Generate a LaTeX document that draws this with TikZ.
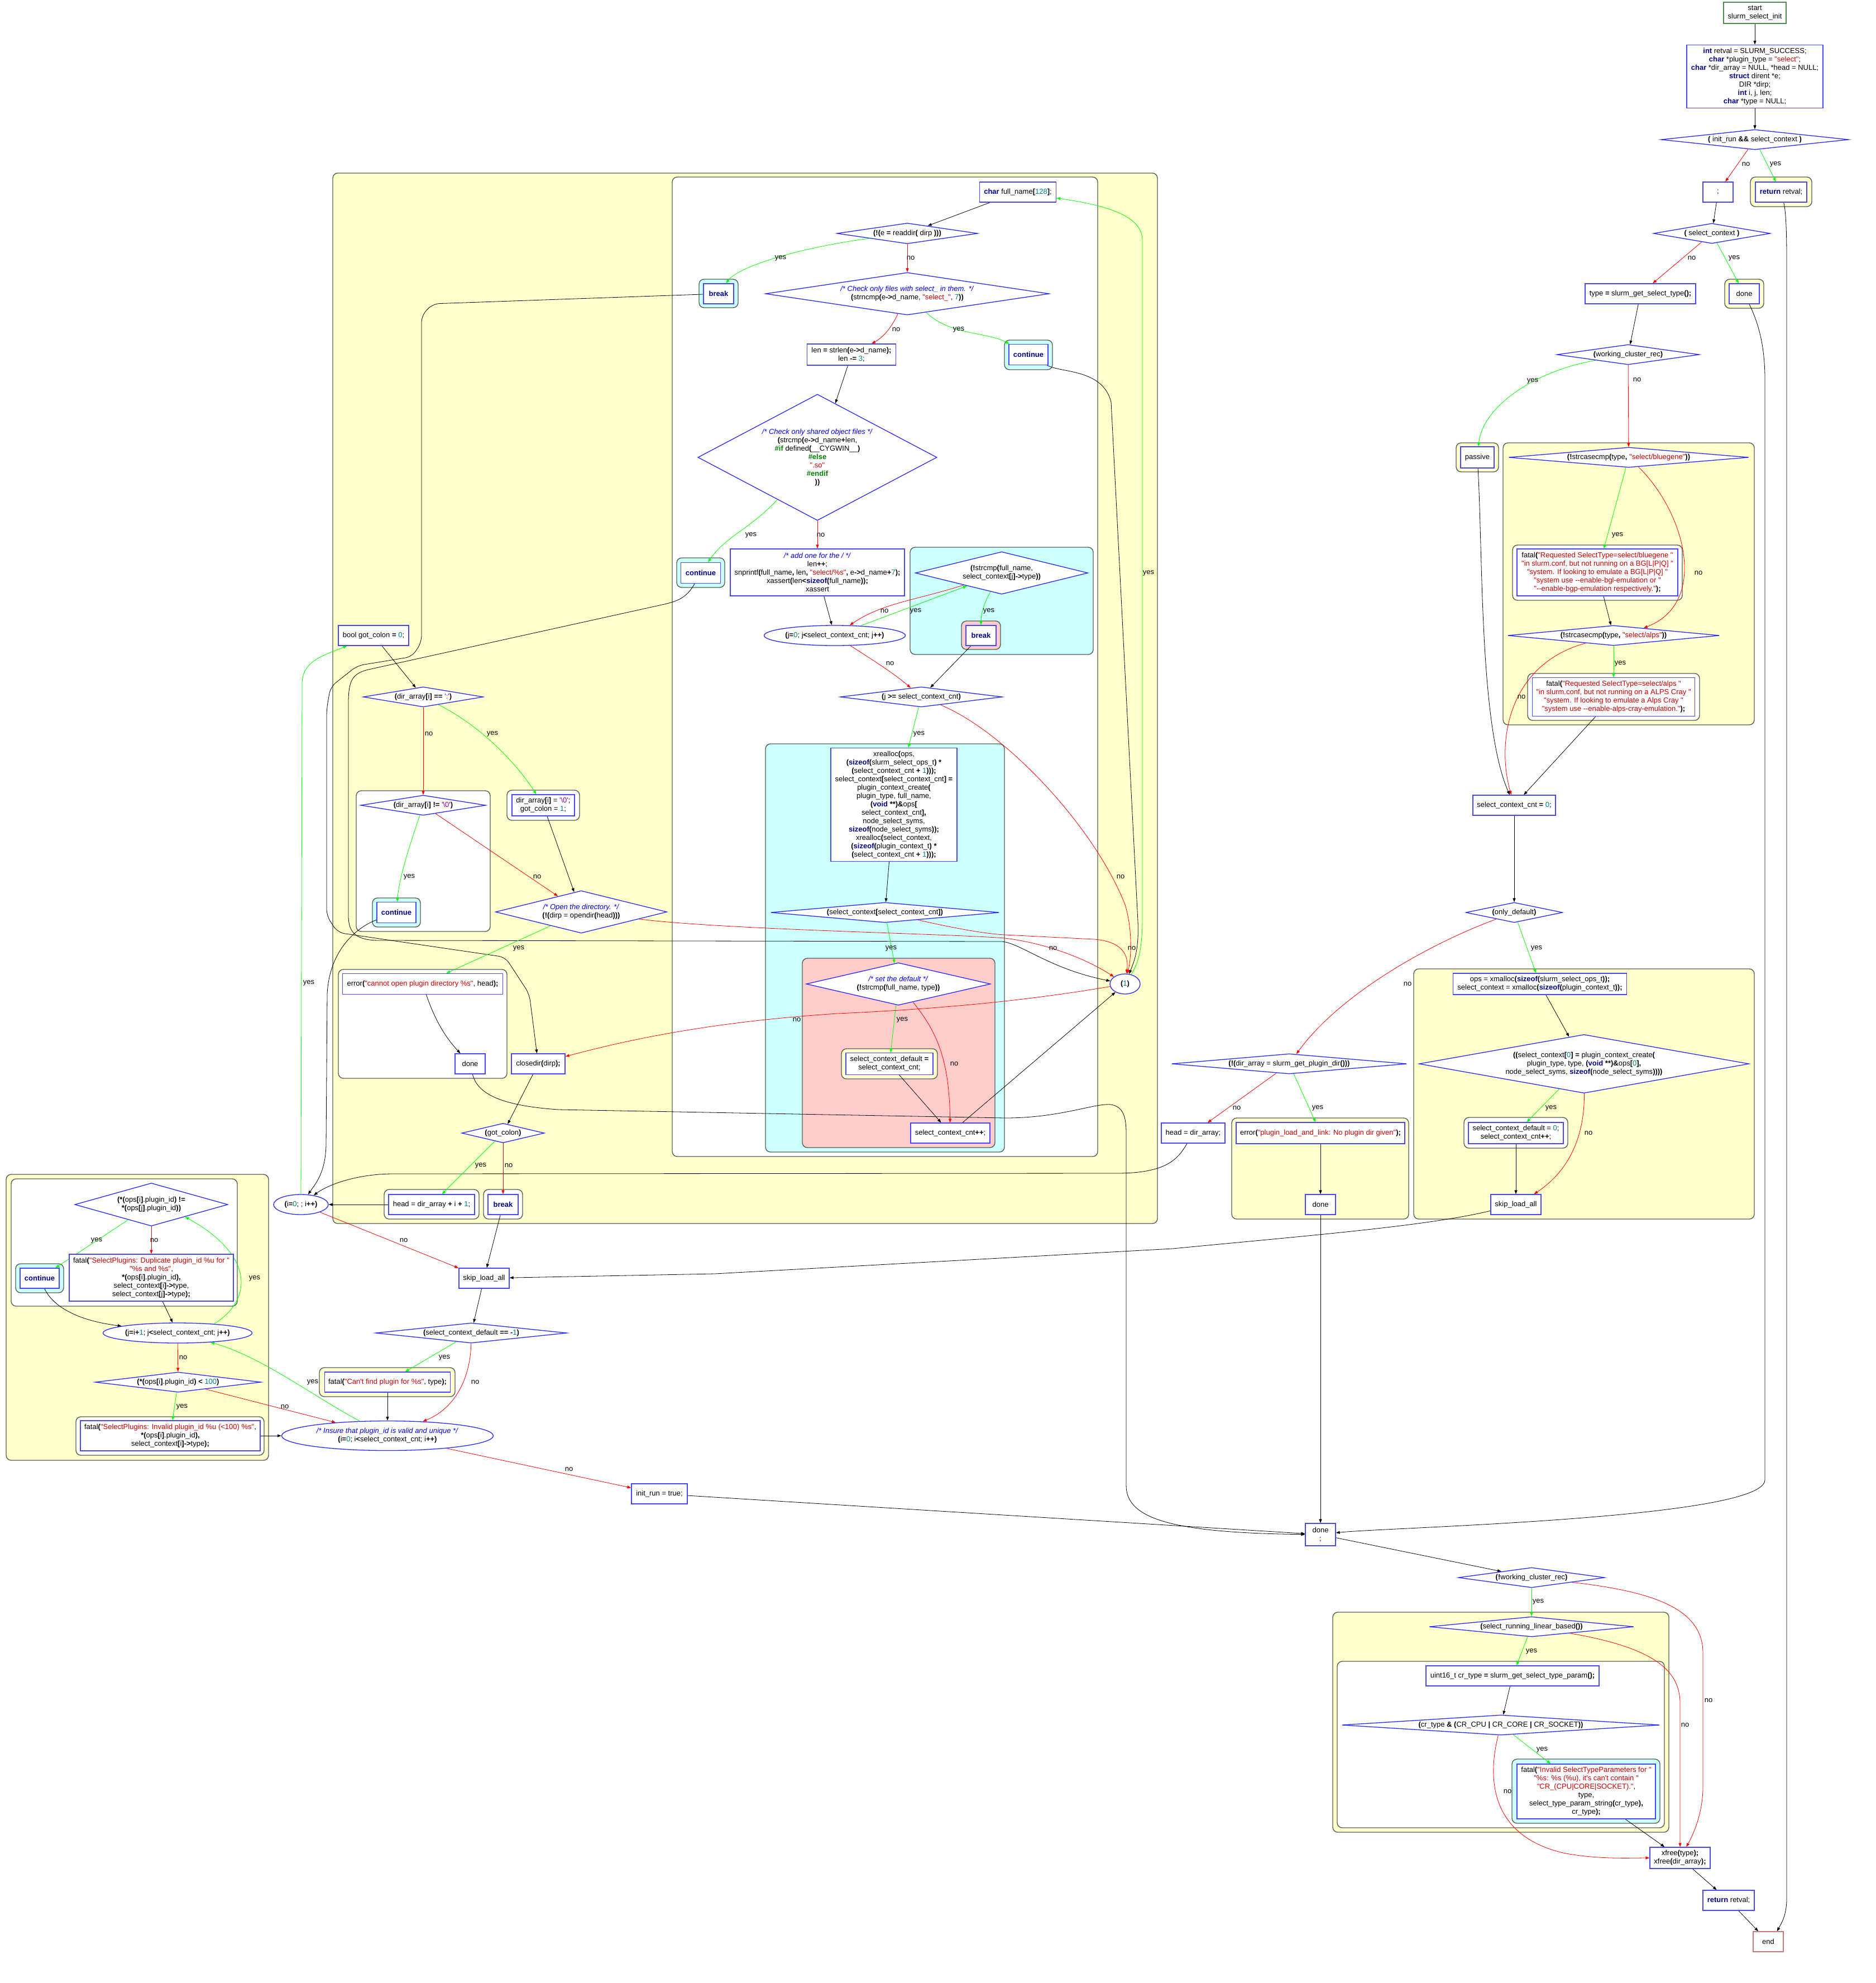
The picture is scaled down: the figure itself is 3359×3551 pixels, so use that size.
\documentclass[tikz,border=0pt]{standalone}
\usepackage{fontspec}
\setmainfont{Liberation Sans}[Ligatures=TeXOff]
\usetikzlibrary{shapes.geometric,arrows.meta}
\definecolor{nodeblue}{RGB}{70,70,255}
\definecolor{diablue}{RGB}{40,40,255}
\definecolor{clborder}{RGB}{85,95,85}
\definecolor{clyellow}{RGB}{255,255,204}
\definecolor{clcyan}{RGB}{204,255,255}
\definecolor{clpink}{RGB}{255,204,204}
\definecolor{kwblue}{RGB}{0,0,139}
\definecolor{strred}{RGB}{204,0,0}
\definecolor{numteal}{RGB}{0,128,128}
\definecolor{chrpurple}{RGB}{150,0,150}
\definecolor{cmtblue}{RGB}{0,0,255}
\definecolor{ppgreen}{RGB}{0,128,0}
\definecolor{edgegreen}{RGB}{0,255,0}
\definecolor{edgered}{RGB}{255,0,0}
\definecolor{startgreen}{RGB}{80,135,80}
\definecolor{endrose}{RGB}{200,120,120}
% syntax colouring for the code fragments
\newcommand\ckw[1]{\textcolor{kwblue}{\textbf{#1}}}
\newcommand\cstr[1]{\textcolor{strred}{#1}}
\newcommand\cnum[1]{\textcolor{numteal}{#1}}
\newcommand\cchr[1]{\textcolor{chrpurple}{#1}}
\newcommand\ccmt[1]{\textcolor{cmtblue}{\textit{#1}}}
\newcommand\cpp[1]{\textcolor{ppgreen}{\textbf{#1}}}
\newcommand\cop[1]{\textbf{#1}}
\newcommand\fs{\fontsize{13}{15}\selectfont}
\pgfdeclarelayer{clusters}
\pgfdeclarelayer{wires}
\pgfsetlayers{clusters,wires,main}
\tikzset{
  box/.style 2 args={draw=nodeblue, line width=1.3pt, fill=white, inner sep=0pt,
    align=center, font=\fs, minimum width=#1, minimum height=#2},
  dia/.style n args={3}{diamond, draw=diablue, line width=1.3pt, fill=white, inner sep=0pt,
    align=center, font=\fs, minimum width=#1, minimum height=#2, shape aspect=#3},
  ell/.style 2 args={ellipse, draw=diablue, line width=1.3pt, fill=white, inner sep=0pt,
    align=center, font=\fs, minimum width=#1, minimum height=#2},
  cl/.style={draw=clborder, line width=1.4pt, rounded corners=9},
  wire/.style={line width=0.8pt, -{Triangle[length=7pt,width=5pt]}},
  yeswire/.style={wire, draw=edgegreen},
  nowire/.style={wire, draw=edgered},
  lbl/.style={font=\fs, inner sep=0pt}
}
\begin{document}
\begin{tikzpicture}[x=1pt,y=-1pt]
\useasboundingbox (0,0) rectangle (3359,3551);

% ---------------- clusters ----------------
\begin{pgfonlayer}{clusters}
\fill[white] (0,0) rectangle (3359,3551);
% right column
\draw[cl,fill=clyellow] (3135,317) rectangle (3245,370);
\draw[cl,fill=clyellow] (3089,500) rectangle (3159,552);
\draw[cl,fill=clyellow] (2608,793) rectangle (2684,845);
\draw[cl,fill=clyellow] (2692,793) rectangle (3142,1298);
\draw[cl,fill=white] (2709,976) rectangle (3013,1075);
\draw[cl,fill=white] (2736,1206) rectangle (3044,1290);
\draw[cl,fill=clyellow] (2532,1735) rectangle (3142,2183);
\draw[cl,fill=white] (2622,2001) rectangle (2808,2056);
\draw[cl,fill=clyellow] (2206,2002) rectangle (2523,2183);
\draw[cl,fill=clyellow] (2387,2887) rectangle (2989,3281);
\draw[cl,fill=white] (2395,2975) rectangle (2981,3273);
\draw[cl,fill=clcyan] (2708,3150) rectangle (2973,3265);
% directory loop
\draw[cl,fill=clyellow] (596,310) rectangle (2073,2191);
\draw[cl,fill=white] (1204,317) rectangle (1966,2071);
\draw[cl,fill=clcyan] (1252,500) rectangle (1322,551);
\draw[cl,fill=clcyan] (1799,609) rectangle (1885,662);
\draw[cl,fill=clcyan] (1212,999) rectangle (1298,1052);
\draw[cl,fill=clcyan] (1630,980) rectangle (1958,1172);
\draw[cl,fill=clpink] (1722,1112) rectangle (1792,1163);
\draw[cl,fill=clcyan] (1371,1332) rectangle (1799,2063);
\draw[cl,fill=clpink] (1437,1716) rectangle (1782,2055);
\draw[cl,fill=clyellow] (1507,1878) rectangle (1679,1932);
\draw[cl,fill=white] (638,1416) rectangle (878,1668);
\draw[cl,fill=clcyan] (667,1608) rectangle (753,1660);
\draw[cl,fill=white] (908,1415) rectangle (1038,1469);
\draw[cl,fill=white] (606,1736) rectangle (908,1931);
\draw[cl,fill=white] (688,2130) rectangle (858,2183);
\draw[cl,fill=white] (866,2130) rectangle (936,2183);
% plugin id check
\draw[cl,fill=clyellow] (11,2103) rectangle (481,2615);
\draw[cl,fill=white] (20,2111) rectangle (425,2339);
\draw[cl,fill=clcyan] (28,2263) rectangle (114,2315);
\draw[cl,fill=white] (136,2537) rectangle (473,2606);
\draw[cl,fill=clyellow] (572,2449) rectangle (815,2501);
\end{pgfonlayer}

% ---------------- nodes: right column ----------------
\node[box={112}{38}, draw=startgreen] (start) at (3143,23) {start\\slurm\_select\_init};
\node[box={244}{113}] (decl) at (3143,137) {\ckw{int} retval = SLURM\_SUCCESS;\\
\ckw{char} *plugin\_type = \cstr{"select"};\\
\ckw{char} *dir\_array = NULL, *head = NULL;\\
\ckw{struct} dirent *e;\\
DIR *dirp;\\
\ckw{int} i, j, len;\\
\ckw{char} *type = NULL;};
\node[dia={336}{36}{9.33}] (dInit) at (3143,250) {\cop{(} init\_run \cop{\&\&} select\_context \cop{)}};
\node[box={54}{36}] (semi) at (3077,344) {;};
\node[box={92}{36}] (retTop) at (3190,344) {\ckw{return} retval;};
\node[dia={209}{36}{5.8}] (dSel) at (3066,418) {\cop{(} select\_context \cop{)}};
\node[box={198}{36}] (typeB) at (2938,526) {type \cop{=} slurm\_get\_select\_type\cop{();}};
\node[box={54}{36}] (doneR) at (3124,526) {done};
\node[dia={255}{36}{7.08}] (dWork) at (2916,635) {\cop{(}working\_cluster\_rec\cop{)}};
\node[box={60}{38}] (passive) at (2646,819) {passive};
\node[dia={430}{36}{11.9}] (dBlue) at (2917,819) {\cop{(!}strcasecmp\cop{(}type\cop{,} \cstr{"select/bluegene"}\cop{))}};
\node[box={288}{84}] (fBlue) at (2861,1025) {fatal\cop{(}\cstr{"Requested SelectType=select/bluegene "}\\
\cstr{"in slurm.conf, but not running on a BG[L|P|Q] "}\\
\cstr{"system. If looking to emulate a BG[L|P|Q] "}\\
\cstr{"system use --enable-bgl-emulation or "}\\
\cstr{"--enable-bgp-emulation respectively."}\cop{);}};
\node[dia={379}{36}{10.5}] (dAlps) at (2890,1138) {\cop{(!}strcasecmp\cop{(}type\cop{,} \cstr{"select/alps"}\cop{))}};
\node[box={291}{69}] (fAlps) at (2890,1248) {fatal\cop{(}\cstr{"Requested SelectType=select/alps "}\\
\cstr{"in slurm.conf, but not running on a ALPS Cray "}\\
\cstr{"system. If looking to emulate a Alps Cray "}\\
\cstr{"system use --enable-alps-cray-emulation."}\cop{);}};
\node[box={148}{36}] (cnt0) at (2712,1442) {select\_context\_cnt \cop{=} \cnum{0};};
\node[dia={173}{36}{4.8}] (dOnly) at (2712,1634) {\cop{(}only\_default\cop{)}};
\node[box={311}{38}] (opsB) at (2758,1762) {ops = xmalloc\cop{(}\ckw{sizeof}\cop{(}slurm\_select\_ops\_t\cop{));}\\
select\_context = xmalloc\cop{(}\ckw{sizeof}\cop{(}plugin\_context\_t\cop{));}};
\node[dia={591}{105}{5.63}] (dCreate) at (2837,1905) {\cop{((}select\_context\cop{[}\cnum{0}\cop{]} \cop{=} plugin\_context\_create\cop{(}\\
plugin\_type, type, \cop{(}\ckw{void} \cop{**)\&}ops\cop{[}\cnum{0}\cop{],}\\
node\_select\_syms, \ckw{sizeof}\cop{(}node\_select\_syms\cop{))))}};
\node[box={170}{38}] (scd0) at (2715,2029) {select\_context\_default = \cnum{0};\\select\_context\_cnt\cop{++};};
\node[box={90}{36}] (skipR) at (2715,2157) {skip\_load\_all};
\node[dia={421}{36}{11.7}] (dDir) at (2309,1905) {\cop{(!(}dir\_array = slurm\_get\_plugin\_dir\cop{()))}};
\node[box={114}{36}] (headA) at (2137,2029) {head = dir\_array;};
\node[box={302}{38}] (errPl) at (2365,2029) {error\cop{(}\cstr{"plugin\_load\_and\_link: No plugin dir given"}\cop{);}};
\node[box={54}{36}] (doneM) at (2365,2157) {done};
\node[box={54}{40}] (doneBot) at (2365,2748) {done\\;};
\node[dia={262}{36}{7.3}] (dNotWork) at (2743,2825) {\cop{(!}working\_cluster\_rec\cop{)}};
\node[dia={366}{36}{10.2}] (dLinear) at (2743,2913) {\cop{(}select\_running\_linear\_based\cop{())}};
\node[box={310}{36}] (uint) at (2709,3001) {uint16\_t cr\_type \cop{=} slurm\_get\_select\_type\_param\cop{();}};
\node[dia={569}{36}{15.8}] (dCr) at (2688,3089) {\cop{(}cr\_type \cop{\&} \cop{(}CR\_CPU \cop{|} CR\_CORE \cop{|} CR\_SOCKET\cop{))}};
\node[box={248}{98}] (fCr) at (2841,3208) {fatal\cop{(}\cstr{"Invalid SelectTypeParameters for "}\\
\cstr{"\%s: \%s (\%u), it's can't contain "}\\
\cstr{"CR\_(CPU|CORE|SOCKET)."},\\
type,\\
select\_type\_param\_string\cop{(}cr\_type\cop{),}\\
cr\_type\cop{);}};
\node[box={108}{38}] (xfree) at (3009,3327) {xfree\cop{(}type\cop{);}\\xfree\cop{(}dir\_array\cop{);}};
\node[box={92}{36}] (retBot) at (3096,3403) {\ckw{return} retval;};
\node[box={54}{36}, draw=endrose] (endB) at (3167,3477) {end};

% ---------------- nodes: readdir loop ----------------
\node[box={137}{36}] (fullName) at (1823,344) {\ckw{char} full\_name\cop{[}\cnum{128}\cop{]};};
\node[dia={252}{37}{6.8}] (dReaddir) at (1625,418) {\cop{(!(}e \cop{=} readdir\cop{(} dirp \cop{)))}};
\node[box={54}{36}] (breakT) at (1287,526) {\ckw{break}};
\node[dia={508}{76}{6.7}] (dSel2) at (1625,526) {\ccmt{/* Check only files with select\_ in them. */}\\
\cop{(}strncmp\cop{(}e\cop{->}d\_name, \cstr{"select\_"}, \cnum{7}\cop{))}};
\node[box={159}{38}] (lenB) at (1525,635) {len \cop{=} strlen\cop{(}e\cop{->}d\_name\cop{);}\\len \cop{-=} \cnum{3};};
\node[box={70}{37}] (contR) at (1842,635) {\ckw{continue}};
\node[dia={428}{226}{1.89}] (dShared) at (1464,819) {\ccmt{/* Check only shared object files */}\\
\cop{(}strcmp\cop{(}e\cop{->}d\_name\cop{+}len,\\
\cpp{\#if} defined\cop{(}\_\_CYGWIN\_\_\cop{)}\\
\cpp{\#else}\\
\cstr{".so"}\\
\cpp{\#endif}\\
\cop{))}};
\node[box={71}{37}] (contL) at (1255,1026) {\ckw{continue}};
\node[box={312}{84}] (addOne) at (1464,1025) {\ccmt{/* add one for the / */}\\
len\cop{++};\\
snprintf\cop{(}full\_name\cop{,} len\cop{,} \cstr{"select/\%s"}\cop{,} e\cop{->}d\_name\cop{+}\cnum{7}\cop{);}\\
xassert\cop{(}len\cop{<}\ckw{sizeof}\cop{(}full\_name\cop{));}\\
xassert};
\node[dia={309}{76}{4.07}] (dStrcmp) at (1794,1026) {\cop{(!}strcmp\cop{(}full\_name,\\select\_context\cop{[}j\cop{]->}type\cop{))}};
\node[box={54}{36}] (breakP) at (1757,1138) {\ckw{break}};
\node[ell={253}{36}] (jLoop) at (1495,1138) {\cop{(}j\cop{=}\cnum{0}; j\cop{<}select\_context\_cnt; j\cop{++)}};
\node[dia={290}{36}{8.06}] (dJge) at (1650,1248) {\cop{(}j \cop{>=} select\_context\_cnt\cop{)}};
\node[box={226}{203}] (xreal) at (1601,1441) {xrealloc\cop{(}ops,\\
\cop{(}\ckw{sizeof}\cop{(}slurm\_select\_ops\_t\cop{)} \cop{*}\\
\cop{(}select\_context\_cnt \cop{+} \cnum{1}\cop{)));}\\
select\_context\cop{[}select\_context\_cnt\cop{]} \cop{=}\\
plugin\_context\_create\cop{(}\\
plugin\_type, full\_name,\\
\cop{(}\ckw{void} \cop{**)\&}ops\cop{[}\\
select\_context\_cnt\cop{],}\\
node\_select\_syms,\\
\ckw{sizeof}\cop{(}node\_select\_syms\cop{));}\\
xrealloc\cop{(}select\_context,\\
\cop{(}\ckw{sizeof}\cop{(}plugin\_context\_t\cop{)} \cop{*}\\
\cop{(}select\_context\_cnt \cop{+} \cnum{1}\cop{)));}};
\node[dia={409}{36}{11.4}] (dCtx) at (1585,1634) {\cop{(}select\_context\cop{[}select\_context\_cnt\cop{])}};
\node[dia={330}{76}{4.34}] (dDefault) at (1609,1762) {\ccmt{/* set the default */}\\\cop{(!}strcmp\cop{(}full\_name, type\cop{))}};
\node[box={156}{39}] (scdCnt) at (1593,1905) {select\_context\_default \cop{=}\\select\_context\_cnt;};
\node[box={142}{36}] (cntPP) at (1702,2029) {select\_context\_cnt\cop{++};};
\node[ell={54}{36}] (one) at (2015,1762) {\cop{(}\cnum{1}\cop{)}};

% ---------------- nodes: directory list ----------------
\node[box={126}{36}] (gotColon0) at (669,1138) {bool got\_colon \cop{=} \cnum{0};};
\node[dia={215}{36}{5.97}] (dColon) at (758,1248) {\cop{(}dir\_array\cop{[}i\cop{]} \cop{==} \cchr{':'}\cop{)}};
\node[dia={224}{36}{6.2}] (dNeq) at (758,1442) {\cop{(}dir\_array\cop{[}i\cop{]} \cop{!=} \cchr{'\textbackslash 0'}\cop{)}};
\node[box={112}{38}] (setNull) at (973,1442) {dir\_array\cop{[}i\cop{]} = \cchr{'\textbackslash 0'};\\got\_colon = \cnum{1};};
\node[box={70}{37}] (contD) at (710,1634) {\ckw{continue}};
\node[dia={307}{76}{4.04}] (dOpen) at (1041,1633) {\ccmt{/* Open the directory. */}\\\cop{(!(}dirp = opendir\cop{(}head\cop{)))}};
\node[box={287}{37}] (errOpen) at (757,1762) {error\cop{(}\cstr{"cannot open plugin directory \%s"}, head\cop{);}};
\node[box={54}{36}] (doneL) at (842,1905) {done};
\node[box={96}{36}] (closedir) at (964,1905) {closedir\cop{(}dirp\cop{);}};
\node[dia={148}{35}{4.2}] (dGot) at (901,2029) {\cop{(}got\_colon\cop{)}};
\node[box={154}{36}] (headB) at (773,2157) {head = dir\_array \cop{+} i \cop{+} \cnum{1};};
\node[box={54}{36}] (breakB) at (901,2157) {\ckw{break}};
\node[ell={98}{36}] (iLoop) at (539,2157) {\cop{(}i\cop{=}\cnum{0}; ; i\cop{++)}};
\node[box={90}{36}] (skipM) at (867,2289) {skip\_load\_all};
\node[dia={342}{36}{9.5}] (dScd) at (844,2387) {\cop{(}select\_context\_default \cop{==} \cop{-}\cnum{1}\cop{)}};
\node[box={225}{36}] (cantFind) at (694,2475) {fatal\cop{(}\cstr{"Can't find plugin for \%s"}, type\cop{);}};
\node[ell={379}{53}] (insure) at (694,2571) {\ccmt{/* Insure that plugin\_id is valid and unique */}\\\cop{(}i\cop{=}\cnum{0}; i\cop{<}select\_context\_cnt; i\cop{++)}};
\node[box={100}{36}] (initB) at (1181,2675) {init\_run = true;};

% ---------------- nodes: plugin id check ----------------
\node[dia={274}{77}{3.56}] (dOps) at (271,2157) {\cop{(*(}ops\cop{[}i\cop{]}.plugin\_id\cop{)} \cop{!=}\\\cop{*(}ops\cop{[}j\cop{]}.plugin\_id\cop{))}};
\node[box={70}{36}] (contLL) at (71,2289) {\ckw{continue}};
\node[box={294}{84}] (fDup) at (271,2288) {fatal\cop{(}\cstr{"SelectPlugins: Duplicate plugin\_id \%u for "}\\
\cstr{"\%s and \%s"},\\
\cop{*(}ops\cop{[}i\cop{]}.plugin\_id\cop{),}\\
select\_context\cop{[}i\cop{]->}type,\\
select\_context\cop{[}j\cop{]->}type\cop{);}};
\node[ell={267}{36}] (jLoop2) at (318,2387) {\cop{(}j\cop{=}i\cop{+}\cnum{1}; j\cop{<}select\_context\_cnt; j\cop{++)}};
\node[dia={297}{36}{8.25}] (d100) at (319,2475) {\cop{(*(}ops\cop{[}i\cop{]}.plugin\_id\cop{)} \cop{<} \cnum{100}\cop{)}};
\node[box={322}{54}] (fInv) at (305,2571) {fatal\cop{(}\cstr{"SelectPlugins: Invalid plugin\_id \%u (<100) \%s"},\\
\cop{*(}ops\cop{[}i\cop{]}.plugin\_id\cop{),}\\
select\_context\cop{[}i\cop{]->}type\cop{);}};

% ---------------- connectors ----------------
\begin{pgfonlayer}{wires}
% right column
\draw[wire] (start) -- (decl);
\draw[wire] (decl) -- (dInit);
\draw[nowire] (dInit) -- (semi);
\node[lbl] at (3127,294) {no};
\draw[yeswire] (dInit) -- (retTop);
\node[lbl] at (3180,294) {yes};
\draw[wire] (semi) -- (dSel);
\draw[wire] (retTop) .. controls (3199,380) and (3200,420) .. (3200,470) -- (3200,3400) .. controls (3200,3430) and (3190,3445) .. (endB.50);
\draw[nowire] (dSel) -- (typeB);
\node[lbl] at (3030,462) {no};
\draw[yeswire] (dSel) -- (doneR);
\node[lbl] at (3106,462) {yes};
\draw[wire] (typeB) -- (dWork);
\draw[wire] (doneR) .. controls (3150,580) and (3161,620) .. (3161,680) -- (3161,2650) .. controls (3161,2720) and (2480,2735) .. (doneBot);
\draw[yeswire] (dWork) .. controls (2745,665) and (2655,730) .. (passive);
\node[lbl] at (2745,682) {yes};
\draw[nowire] (dWork) -- (dBlue);
\node[lbl] at (2932,680) {no};
\draw[yeswire] (dBlue) -- (fBlue);
\node[lbl] at (2897,958) {yes};
\draw[nowire] (dBlue) .. controls (3020,920) and (3060,1080) .. (dAlps.14);
\node[lbl] at (3042,1026) {no};
\draw[wire] (fBlue) -- (dAlps);
\draw[yeswire] (dAlps) -- (fAlps);
\node[lbl] at (2902,1188) {yes};
\draw[nowire] (dAlps) .. controls (2700,1190) and (2680,1330) .. (cnt0);
\node[lbl] at (2725,1248) {no};
\draw[wire] (fAlps) -- (cnt0);
\draw[wire] (passive) .. controls (2656,1000) and (2650,1300) .. (cnt0);
\draw[wire] (cnt0) -- (dOnly);
\draw[yeswire] (dOnly) -- (opsB);
\node[lbl] at (2752,1698) {yes};
\draw[nowire] (dOnly) .. controls (2560,1690) and (2400,1780) .. (dDir);
\node[lbl] at (2521,1762) {no};
\draw[wire] (opsB) -- (dCreate);
\draw[yeswire] (dCreate) -- (scd0);
\node[lbl] at (2778,1984) {yes};
\draw[nowire] (dCreate) .. controls (2838,2020) and (2820,2090) .. (skipR.30);
\node[lbl] at (2845,2029) {no};
\draw[wire] (scd0) -- (skipR);
\draw[wire] (skipR) .. controls (2560,2195) and (2350,2212) .. (2100,2236) -- (1280,2281) -- (skipM);
\draw[nowire] (dDir) -- (headA);
\node[lbl] at (2215,1984) {no};
\draw[yeswire] (dDir) -- (errPl);
\node[lbl] at (2360,1984) {yes};
\draw[wire] (errPl) -- (doneM);
\draw[wire] (doneM) -- (doneBot);
\draw[wire] (headA) .. controls (2110,2075) and (2090,2101) .. (2000,2101) -- (700,2102) .. controls (640,2103) and (590,2120) .. (iLoop);
\draw[wire] (doneBot) -- (dNotWork);
\draw[wire] (initB) -- (doneBot);
\draw[yeswire] (dNotWork) -- (dLinear);
\node[lbl] at (2755,2868) {yes};
\draw[nowire] (dNotWork) .. controls (2960,2850) and (3050,2880) .. (3050,2960) -- (3050,3200) .. controls (3050,3250) and (3030,3290) .. (xfree);
\node[lbl] at (3060,3045) {no};
\draw[yeswire] (dLinear) -- (uint);
\node[lbl] at (2743,2957) {yes};
\draw[nowire] (dLinear) .. controls (2960,2950) and (3009,2990) .. (3009,3050) -- (xfree);
\node[lbl] at (3018,3089) {no};
\draw[wire] (uint) -- (dCr);
\draw[yeswire] (dCr) -- (fCr);
\node[lbl] at (2762,3133) {yes};
\draw[nowire] (dCr) .. controls (2660,3200) and (2680,3290) .. (2800,3318) .. controls (2860,3330) and (2920,3327) .. (xfree);
\node[lbl] at (2700,3208) {no};
\draw[wire] (fCr) -- (xfree);
\draw[wire] (xfree) -- (retBot);
\draw[wire] (retBot) -- (endB);

% readdir loop
\draw[wire] (fullName) -- (dReaddir);
\draw[yeswire] (dReaddir) .. controls (1420,445) and (1320,480) .. (breakT);
\node[lbl] at (1398,462) {yes};
\draw[nowire] (dReaddir) -- (dSel2);
\node[lbl] at (1631,462) {no};
\draw[wire, rounded corners=12] (breakT) -- (775,544) -- (755,565) -- (755,1150) -- (738,1176) -- (640,1192) -- (592,1230) -- (585,1270) -- (585,1640) -- (605,1670) -- (905,1714) -- (948,1780) -- (closedir);
\draw[nowire] (dSel2) .. controls (1595,590) and (1580,605) .. (lenB);
\node[lbl] at (1605,590) {no};
\draw[yeswire] (dSel2) .. controls (1700,600) and (1770,595) .. (contR);
\node[lbl] at (1717,590) {yes};
\draw[wire] (contR) .. controls (1900,668) and (1975,660) .. (1990,720) -- (2038,1650) .. controls (2040,1700) and (2032,1720) .. (one);
\draw[wire] (lenB) -- (dShared);
\draw[yeswire] (dShared) .. controls (1340,950) and (1300,960) .. (contL);
\node[lbl] at (1345,958) {yes};
\draw[nowire] (dShared) -- (addOne);
\node[lbl] at (1470,958) {no};
\draw[wire] (contL) .. controls (1230,1070) and (1215,1076) .. (1190,1082) -- (660,1199) .. controls (630,1206) and (624,1220) .. (624,1260) -- (624,1640) .. controls (624,1672) and (640,1684) .. (680,1684) -- (1795,1686) .. controls (1830,1690) and (1880,1735) .. (one);
\draw[wire] (addOne) -- (jLoop);
\draw[yeswire] (jLoop) -- (dStrcmp);
\node[lbl] at (1640,1094) {yes};
\draw[nowire] (dStrcmp) .. controls (1640,1075) and (1580,1080) .. (jLoop);
\node[lbl] at (1584,1094) {no};
\draw[yeswire] (dStrcmp) .. controls (1762,1080) and (1757,1100) .. (breakP);
\node[lbl] at (1771,1094) {yes};
\draw[wire] (breakP) -- (dJge);
\draw[nowire] (jLoop) .. controls (1560,1180) and (1600,1205) .. (dJge);
\node[lbl] at (1594,1188) {no};
\draw[yeswire] (dJge) -- (xreal);
\node[lbl] at (1646,1314) {yes};
\draw[nowire] (dJge) .. controls (1800,1310) and (1960,1480) .. (2015,1620) .. controls (2030,1670) and (2025,1720) .. (one);
\node[lbl] at (2007,1570) {no};
\draw[wire] (xreal) -- (dCtx);
\draw[yeswire] (dCtx) -- (dDefault);
\node[lbl] at (1596,1698) {yes};
\draw[nowire] (dCtx) .. controls (1700,1660) and (1760,1672) .. (1800,1674) -- (1960,1682) .. controls (2010,1686) and (2022,1710) .. (one);
\node[lbl] at (2027,1698) {no};
\draw[nowire] (dOpen) .. controls (1300,1665) and (1700,1672) .. (1800,1680) .. controls (1880,1690) and (1950,1720) .. (one);
\node[lbl] at (1886,1698) {no};
\draw[yeswire] (dDefault) -- (scdCnt);
\node[lbl] at (1616,1826) {yes};
\draw[nowire] (dDefault) .. controls (1680,1850) and (1700,1900) .. (cntPP);
\node[lbl] at (1709,1905) {no};
\draw[wire] (scdCnt) -- (cntPP);
\draw[wire] (cntPP) -- (one);
\draw[yeswire] (one) .. controls (2042,1720) and (2046,1690) .. (2046,1640) -- (2046,430) .. controls (2046,380) and (1960,365) .. (fullName);
\node[lbl] at (2057,1026) {yes};
\draw[nowire] (one) .. controls (1850,1790) and (1700,1806) .. (1500,1815) .. controls (1300,1828) and (1150,1855) .. (closedir);
\node[lbl] at (1427,1826) {no};

% directory list
\draw[yeswire] (iLoop) -- (541,1225) .. controls (541,1185) and (575,1175) .. (gotColon0);
\node[lbl] at (553,1760) {yes};
\draw[wire] (gotColon0) -- (dColon);
\draw[nowire] (dColon) -- (dNeq);
\node[lbl] at (768,1314) {no};
\draw[yeswire] (dColon) .. controls (880,1310) and (940,1390) .. (setNull);
\node[lbl] at (882,1314) {yes};
\draw[yeswire] (dNeq) .. controls (735,1510) and (715,1570) .. (contD);
\node[lbl] at (733,1570) {yes};
\draw[nowire] (dNeq) -- (dOpen);
\node[lbl] at (962,1570) {no};
\draw[wire] (setNull) -- (dOpen);
\draw[wire] (contD) .. controls (640,1660) and (590,1700) .. (586,1780) -- (584,2050) .. controls (583,2100) and (565,2120) .. (iLoop);
\draw[yeswire] (dOpen) -- (errOpen);
\node[lbl] at (929,1698) {yes};
\draw[wire] (errOpen) .. controls (780,1830) and (800,1860) .. (doneL);
\draw[wire] (doneL) .. controls (855,1960) and (900,1980) .. (1000,1987) -- (1800,2002) .. controls (1900,2002) and (1960,1975) .. (1990,1978) .. controls (2012,1982) and (2017,2000) .. (2017,2030) -- (2017,2660) .. controls (2017,2720) and (2100,2745) .. (doneBot);
\draw[wire] (closedir) -- (dGot);
\draw[yeswire] (dGot) -- (headB);
\node[lbl] at (861,2087) {yes};
\draw[nowire] (dGot) -- (breakB);
\node[lbl] at (911,2087) {no};
\draw[wire] (headB) -- (iLoop);
\draw[wire] (breakB) -- (skipM);
\draw[nowire] (iLoop) -- (skipM);
\node[lbl] at (723,2221) {no};
\draw[wire] (skipM) -- (dScd);
\draw[yeswire] (dScd) -- (cantFind);
\node[lbl] at (796,2431) {yes};
\draw[nowire] (dScd) .. controls (843,2460) and (820,2520) .. (insure);
\node[lbl] at (851,2475) {no};
\draw[wire] (cantFind) -- (insure);
\draw[yeswire] (insure) .. controls (560,2500) and (470,2430) .. (jLoop2);
\node[lbl] at (560,2475) {yes};
\draw[nowire] (insure) -- (initB);
\node[lbl] at (1019,2631) {no};

% plugin id check
\draw[yeswire] (jLoop2.14) .. controls (450,2330) and (460,2250) .. (dOps.-20);
\node[lbl] at (456,2289) {yes};
\draw[yeswire] (dOps) -- (contLL);
\node[lbl] at (173,2221) {yes};
\draw[nowire] (dOps) -- (fDup);
\node[lbl] at (276,2221) {no};
\draw[wire] (contLL) .. controls (95,2340) and (140,2365) .. (jLoop2);
\draw[wire] (fDup) -- (jLoop2);
\draw[nowire] (jLoop2) -- (d100);
\node[lbl] at (328,2431) {no};
\draw[yeswire] (d100) -- (fInv);
\node[lbl] at (326,2519) {yes};
\draw[nowire] (d100) -- (insure);
\node[lbl] at (510,2519) {no};
\draw[wire] (fInv) -- (insure);
\end{pgfonlayer}
\end{tikzpicture}
\end{document}
